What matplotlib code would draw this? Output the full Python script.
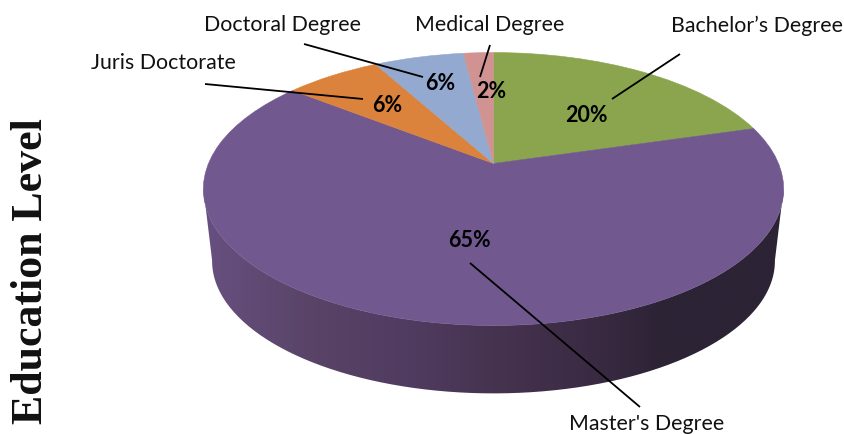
import numpy as np
import matplotlib
matplotlib.use("Agg")
import matplotlib.pyplot as plt
from matplotlib.colors import LinearSegmentedColormap
from matplotlib.patches import PathPatch
from matplotlib.path import Path
from matplotlib.transforms import Transform

categories = ["Bachelor\u2019s Degree", "Master's Degree", "Juris Doctorate", "Doctoral Degree", "Medical Degree"]
values = [20.5, 65.1, 6.4, 6.0, 2.0]
pct_labels = ["20%", "65%", "6%", "6%", "2%"]
colors = ["#8AA54E", "#71588F", "#DB833D", "#93A9CF", "#D19392"]

CX, CY = 493.5, 164.5       # apex of the pie on the canvas
K, A, S = 0.187, 131.7, 285.0  # perspective of the tilted disc
DEPTH, SHRINK, MID = 72.0, 0.97, 189.5


class Tilt(Transform):
    input_dims = output_dims = 2
    is_separable = False
    has_inverse = False

    def transform_non_affine(self, xy):
        xy = np.asarray(xy, float)
        d = 1 + K * xy[:, 1]
        return np.column_stack([CX + S * xy[:, 0] / d, CY - A * xy[:, 1] / d])


tilt = Tilt()

fig = plt.figure(figsize=(8.45, 4.35), dpi=100)
ax = fig.add_axes([0, 0, 1, 1])

wedges, _ = ax.pie(values, colors=colors, startangle=90, counterclock=False,
                   wedgeprops={"linewidth": 0.4})
for w, c in zip(wedges, colors):
    w.set_edgecolor(c)
    w.set_transform(tilt + ax.transData)
    w.set_zorder(3)

# side wall of the disc
t = np.radians(np.linspace(190.5, 349.5, 240))
top = tilt.transform_non_affine(np.column_stack([np.cos(t), np.sin(t)]))
bot = np.column_stack([CX + SHRINK * (top[:, 0] - CX),
                       MID + DEPTH + SHRINK * (top[:, 1] - MID)])
verts = np.vstack([top, bot[::-1], top[:1]])
wall = PathPatch(Path(verts), facecolor="none", edgecolor="none", transform=ax.transData)
ax.add_patch(wall)
stops = [(0.0, "#675080"), (0.17, "#5A4569"), (0.35, "#503C60"), (0.5, "#463350"),
         (0.62, "#3E2D47"), (0.72, "#35283E"), (0.79, "#2C2335"), (1.0, "#2C2335")]
cmap = LinearSegmentedColormap.from_list("wall", stops)
img = ax.imshow(np.linspace(0, 1, 400)[None, :], cmap=cmap, aspect="auto",
                extent=(203, 785, 400, 180), zorder=2, interpolation="bilinear")
img.set_clip_path(wall)

ax.set_aspect("auto")
ax.set_xlim(0, 845)
ax.set_ylim(435, 0)
ax.axis("off")

name_pos = [(757.5, 26), (647, 424), (163, 63), (283, 25), (490, 25)]
for name, (x, y) in zip(categories, name_pos):
    ax.text(x, y, name, family="Lato", fontsize=15.4, color="#111111",
            ha="center", va="center", zorder=6)

pct_pos = [(586, 116), (469, 241), (387, 105), (440, 84), (491, 92)]
for lab, (x, y) in zip(pct_labels, pct_pos):
    ax.text(x, y, lab, family="Lato", fontsize=15.5, fontweight="bold", color="black",
            ha="center", va="center", zorder=6)

leaders = [((680, 55), (612, 100)), ((470, 264), (640, 408)), ((205, 85), (363, 100)),
           ((304, 45), (423, 78)), ((490, 46), (480, 78))]
for (x0, y0), (x1, y1) in leaders:
    ax.plot([x0, x1], [y0, y1], color="black", lw=1.3, zorder=5, solid_capstyle="butt")

ax.text(31, 271, "Education Level", family="Liberation Serif", fontweight="bold",
        fontsize=31.6, rotation=90, ha="center", va="center", color="#111111")

fig.savefig("out.png", dpi=100)
